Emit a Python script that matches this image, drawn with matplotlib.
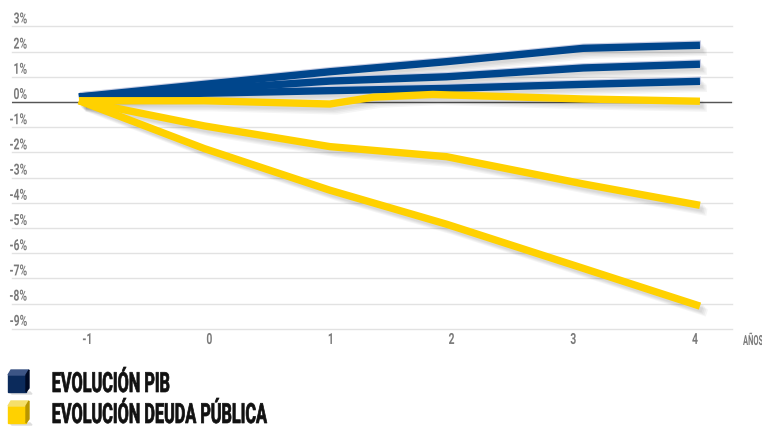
import matplotlib
matplotlib.use('Agg')
import matplotlib.pyplot as plt
import matplotlib.patheffects as pe
from matplotlib.patches import Polygon
from matplotlib.transforms import Affine2D

plt.rcParams['font.family'] = ['Roboto', 'DejaVu Sans']

# los vertices no caen justo sobre las etiquetas del eje
anios = [-1, 0.01, 1.02, 1.96, 3.06, 4]
anios_alta = [-1, 0.01, 1.02, 1.37, 1.85, 3.06, 4]
etiquetas_x = ['-1', '0', '1', '2', '3', '4']
etiquetas_pos = [-0.93, 0.05, 1.03, 2.0, 2.98, 3.96]
ticks_y = [3, 2, 1, 0, -1, -2, -3, -4, -5, -6, -7, -8, -9]

pib_alto = [0.2, 0.7, 1.2, 1.6, 2.13, 2.25]
pib_medio = [0.2, 0.5, 0.83, 1.0, 1.35, 1.5]
pib_bajo = [0.2, 0.35, 0.45, 0.54, 0.7, 0.82]
deuda_alta = [0.05, 0.05, -0.08, 0.19, 0.3, 0.12, 0.03]
deuda_media = [0.05, -0.95, -1.77, -2.17, -3.25, -4.1]
deuda_baja = [0.05, -1.85, -3.5, -4.85, -6.6, -8.1]

azul = '#00468c'
amarillo = '#ffd100'
gris = '#7a7a7a'


# la fuente original es muy estrecha: se comprime el texto en horizontal al dibujarlo
class Estrecha(pe.AbstractPathEffect):
    def __init__(self, sx, ancla=0.0, grosor=0.0):
        super().__init__()
        self.sx = sx
        self.ancla = ancla
        self.grosor = grosor

    def draw_path(self, renderer, gc, tpath, affine, rgbFace=None):
        ext = tpath.get_extents()
        x0 = ext.x0 + self.ancla * ext.width
        t = Affine2D().translate(-x0, 0).scale(self.sx, 1).translate(x0, 0)
        gc0 = renderer.new_gc()
        gc0.copy_properties(gc)
        gc0.set_linewidth(self.grosor)
        gc0.set_foreground(rgbFace)
        renderer.draw_path(gc0, tpath, t + affine, rgbFace)
        gc0.restore()


W, H = 762, 426
fig = plt.figure(figsize=(W / 100, H / 100), dpi=100)
ax = fig.add_axes([12 / W, 1 - 328.8 / H, 720 / W, 302.4 / H])
ax.set_xlim(-1.539, 4.258)
ax.set_ylim(-9, 3)
for s in ax.spines.values():
    s.set_visible(False)

ax.set_yticks(ticks_y)
ax.set_yticklabels([f'{v}%' for v in ticks_y], fontsize=11, color=gris, fontweight='bold', va='bottom')
ax.tick_params(axis='y', length=0, pad=-11)
for lab in ax.get_yticklabels():
    lab.set_path_effects([Estrecha(0.68, 1.0)])
ax.set_xticks(etiquetas_pos)
ax.set_xticklabels(etiquetas_x, fontsize=11, color=gris, fontweight='bold')
ax.tick_params(axis='x', length=0, pad=3)
for lab in ax.get_xticklabels():
    lab.set_path_effects([Estrecha(0.68, 0.5)])

ax.grid(axis='y', color='#e2e2e2', linewidth=1, clip_on=False)
ax.set_axisbelow(True)
ax.axhline(0, color='#555555', linewidth=1, zorder=1)

series_pib = [pib_alto, pib_medio, pib_bajo]
series_deuda = [(anios, deuda_baja), (anios, deuda_media), (anios_alta, deuda_alta)]

# sombra difusa: varias pasadas con poca opacidad
sombra = [pe.SimpleLineShadow(offset=(d, -d), alpha=0.04, shadow_color='#000000') for d in (5, 4, 3, 2)]
for serie in series_pib:
    ax.plot(anios, serie, color='none', linewidth=5.3, solid_capstyle='butt', zorder=2, clip_on=False,
            path_effects=sombra)
for xs, serie in series_deuda:
    ax.plot(xs, serie, color='none', linewidth=5.3, solid_capstyle='butt', zorder=2, clip_on=False,
            path_effects=sombra)
for serie in series_pib:
    ax.plot(anios, serie, color='#c5cbe3', linewidth=5.4, solid_capstyle='butt', zorder=2.5, clip_on=False,
            path_effects=[pe.Stroke(offset=(0.8, 0.8))])
for serie in series_pib:
    ax.plot(anios, serie, color=azul, linewidth=5.3, solid_capstyle='butt', solid_joinstyle='round',
            zorder=3, clip_on=False)
for xs, serie in series_deuda:
    ax.plot(xs, serie, color=amarillo, linewidth=5.3, solid_capstyle='butt', solid_joinstyle='round',
            zorder=4, clip_on=False)

fig.text(743 / W, 1 - 345 / H, 'AÑOS', fontsize=10, color=gris, fontweight='bold', va='baseline',
         path_effects=[Estrecha(0.54)])


# cubitos de la leyenda
def cubo(x0, y0, frente, arriba, lado):
    px = lambda pts: [(x / W, 1 - y / H) for x, y in pts]
    fig.add_artist(Polygon(px([(x0 + 2, y0 + 22), (x0 + 22, y0 + 22), (x0 + 24, y0 + 24), (x0 + 4, y0 + 24)]),
                           color='#dddddd', transform=fig.transFigure))
    fig.add_artist(Polygon(px([(x0, y0 + 5), (x0 + 18, y0 + 5), (x0 + 18, y0 + 22), (x0, y0 + 22)]),
                           color=frente, transform=fig.transFigure))
    fig.add_artist(Polygon(px([(x0, y0 + 5), (x0 + 3, y0), (x0 + 21, y0), (x0 + 18, y0 + 5)]),
                           color=arriba, transform=fig.transFigure))
    fig.add_artist(Polygon(px([(x0 + 18, y0 + 5), (x0 + 21, y0), (x0 + 21, y0 + 18), (x0 + 18, y0 + 22)]),
                           color=lado, transform=fig.transFigure))


cubo(8, 370, '#0b2a5b', '#3d5585', '#000a24')
cubo(8, 401, '#ffd100', '#f5df6a', '#b89600')

estrecha_ley = [Estrecha(0.585, grosor=0.5)]
fig.text(51 / W, 1 - 392 / H, 'EVOLUCIÓN PIB', fontsize=20, fontweight='bold', color='#111111',
         va='baseline', path_effects=estrecha_ley)
fig.text(51 / W, 1 - 423 / H, 'EVOLUCIÓN DEUDA PÚBLICA', fontsize=20, fontweight='bold', color='#111111',
         va='baseline', path_effects=estrecha_ley)

fig.savefig('out.png', dpi=100)
